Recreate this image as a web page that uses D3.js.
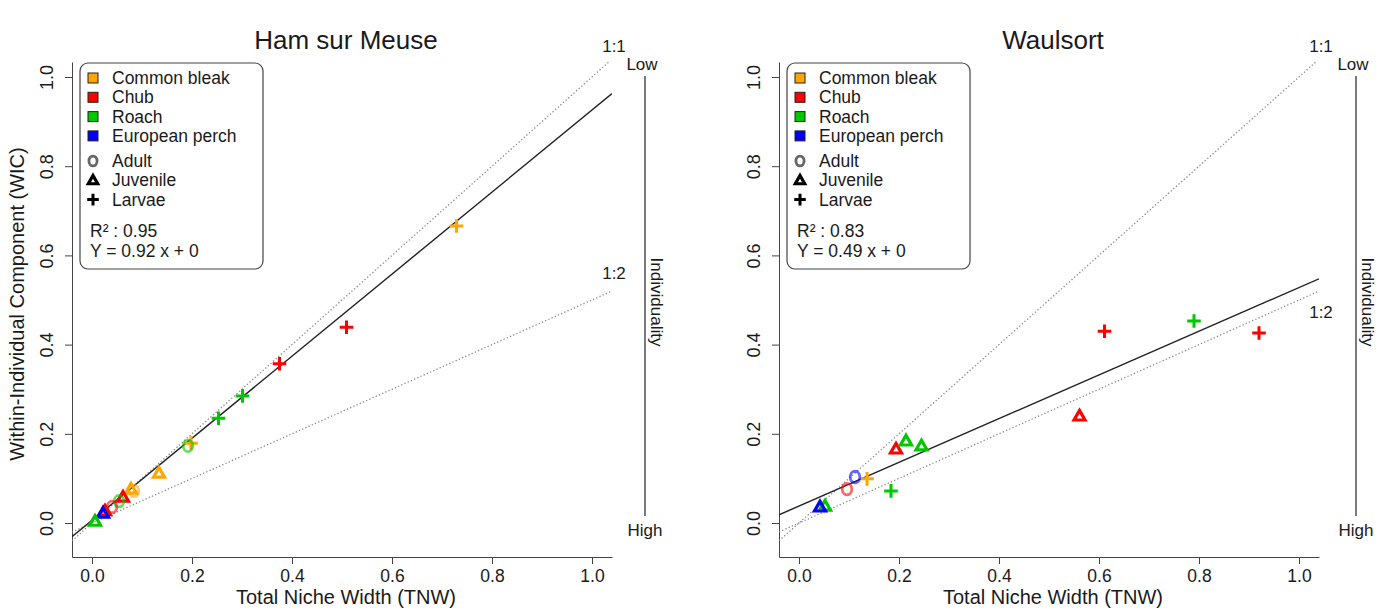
<!DOCTYPE html>
<html>
<head>
<meta charset="utf-8">
<script src="https://cdn.jsdelivr.net/npm/d3@7"></script>
<style>
  body { margin: 0; background: #fff; }
  text { font-family: "Liberation Sans", Arial, sans-serif; fill: #1a1a1a; }
</style>
</head>
<body>
<div id="chart"></div>
<script>
// species colours and legend entries
let species = ['Common bleak', 'Chub', 'Roach', 'European perch']
let speciesColors = ['#FFA500', '#FF0000', '#00C800', '#0000FF']
let stages = ['Adult', 'Juvenile', 'Larvae']
let ticks = [0, 0.2, 0.4, 0.6, 0.8, 1.0]

// Ham sur Meuse (species index, stage, TNW, WIC)
let hamSpecies = [0, 1, 1, 2, 2, 0, 2, 0, 0, 0, 1, 2, 1, 1, 3, 2]
let hamStage = ['Larvae', 'Larvae', 'Larvae', 'Larvae', 'Larvae', 'Larvae', 'Adult', 'Juvenile',
  'Adult', 'Juvenile', 'Juvenile', 'Adult', 'Adult', 'Juvenile', 'Juvenile', 'Juvenile']
let hamTNW = [0.729, 0.509, 0.375, 0.301, 0.253, 0.198, 0.192, 0.134, 0.084, 0.078, 0.062, 0.054, 0.040, 0.026, 0.022, 0.006]
let hamWIC = [0.666, 0.439, 0.357, 0.285, 0.235, 0.179, 0.173, 0.112, 0.072, 0.076, 0.058, 0.049, 0.036, 0.027, 0.022, 0.004]

// Waulsort
let wauSpecies = [1, 2, 1, 1, 1, 2, 2, 2, 0, 3, 1, 2, 3]
let wauStage = ['Larvae', 'Larvae', 'Larvae', 'Juvenile', 'Juvenile', 'Juvenile', 'Juvenile', 'Larvae',
  'Larvae', 'Adult', 'Adult', 'Juvenile', 'Juvenile']
let wauTNW = [0.611, 0.790, 0.920, 0.561, 0.194, 0.214, 0.245, 0.184, 0.136, 0.112, 0.096, 0.052, 0.042]
let wauWIC = [0.430, 0.453, 0.426, 0.240, 0.166, 0.184, 0.173, 0.072, 0.099, 0.103, 0.076, 0.038, 0.036]

let panels = [
  { title: 'Ham sur Meuse', left: 72, sp: hamSpecies, st: hamStage, x: hamTNW, y: hamWIC,
    r2: '0.95', eq: 'Y = 0.92 x + 0', slope: 0.92, icpt: 0.006, ylab: true, label12y: 0 },
  { title: 'Waulsort', left: 779, sp: wauSpecies, st: wauStage, x: wauTNW, y: wauWIC,
    r2: '0.83', eq: 'Y = 0.49 x + 0', slope: 0.49, icpt: 0.038, ylab: false, label12y: 1 }
]

let W = 1382, H = 612
let pw = 540, plotTop = 62, plotBottom = 557

let svg = d3.select('#chart').append('svg').attr('width', W).attr('height', H)

let defs = svg.append('defs')

panels.forEach((p, pi) => {
  let x = d3.scaleLinear().domain([-0.04, 1.04]).range([p.left, p.left + pw])
  let y = d3.scaleLinear().domain([-0.0762, 1.0336]).range([plotBottom, plotTop])
  let g = svg.append('g')

  defs.append('clipPath').attr('id', 'clip' + pi)
    .append('rect').attr('x', x.range()[0]).attr('y', plotTop)
    .attr('width', pw).attr('height', plotBottom - plotTop)

  // title
  g.append('text').attr('x', x(0.5) + 4).attr('y', 49).attr('text-anchor', 'middle')
    .attr('font-size', 26).text(p.title)

  // axes (L-shaped box)
  let xAxis = d3.axisBottom(x).tickValues(ticks).tickFormat(d3.format('.1f')).tickSize(7).tickSizeOuter(0)
  let gx = g.append('g').attr('transform', `translate(0,${plotBottom})`).call(xAxis)
  gx.select('.domain').attr('stroke', '#444')
  gx.selectAll('.tick line').attr('stroke', '#444')
  gx.selectAll('.tick text').attr('font-size', 17.5).attr('dy', 0).attr('y', 25).attr('fill', '#1a1a1a')
    .attr('font-family', '"Liberation Sans", Arial, sans-serif')

  let yAxis = d3.axisLeft(y).tickValues(ticks).tickFormat(d3.format('.1f')).tickSize(7).tickSizeOuter(0)
  let gy = g.append('g').attr('transform', `translate(${x.range()[0]},0)`).call(yAxis)
  gy.select('.domain').attr('stroke', '#444')
  gy.selectAll('.tick line').attr('stroke', '#444')
  gy.selectAll('.tick text').attr('font-size', 18).attr('x', 0).attr('dy', 0).attr('y', 0)
    .attr('text-anchor', 'middle').attr('fill', '#1a1a1a')
    .attr('font-family', '"Liberation Sans", Arial, sans-serif')
    .attr('transform', 'translate(-24,0) rotate(-90)')
    .attr('dominant-baseline', 'middle')

  g.append('text').attr('x', x(0.5) + 4).attr('y', 604).attr('text-anchor', 'middle')
    .attr('font-size', 20).text('Total Niche Width (TNW)')
  if (p.ylab) {
    g.append('text').attr('transform', `translate(24,${y(0.5) + 4}) rotate(-90)`)
      .attr('text-anchor', 'middle').attr('font-size', 20).text('Within-Individual Component (WIC)')
  }

  // reference lines and regression
  let lines = g.append('g').attr('clip-path', `url(#clip${pi})`)
  let line = d3.line().x(d => x(d[0])).y(d => y(d[1]))
  let xs = [-0.04, 1.04]
  lines.append('path').attr('d', line(xs.map(v => [v, v])))
    .attr('stroke', '#888').attr('stroke-width', 1.3).attr('stroke-dasharray', '1.3,2.2').attr('fill', 'none')
  lines.append('path').attr('d', line(xs.map(v => [v, v / 2])))
    .attr('stroke', '#888').attr('stroke-width', 1.3).attr('stroke-dasharray', '1.3,2.2').attr('fill', 'none')
  lines.append('path').attr('d', line(xs.map(v => [v, p.icpt + p.slope * v])))
    .attr('stroke', '#222').attr('stroke-width', 1.4).attr('fill', 'none')

  g.append('text').attr('x', x(1.04) + 2).attr('y', 52).attr('text-anchor', 'middle')
    .attr('font-size', 17).text('1:1')
  let l12y = p.label12y ? y(0.52) + 27 : y(0.52) - 12
  g.append('text').attr('x', x(1.04) + 2).attr('y', l12y).attr('text-anchor', 'middle')
    .attr('font-size', 17).text('1:2')

  // individuality scale
  let sx = x(1.04) + 33 + pi * 4
  g.append('line').attr('x1', sx).attr('x2', sx).attr('y1', 76).attr('y2', 516)
    .attr('stroke', '#333').attr('stroke-width', 1.3)
  g.append('text').attr('x', sx - 3).attr('y', 70).attr('text-anchor', 'middle').attr('font-size', 17).text('Low')
  g.append('text').attr('x', sx).attr('y', 536).attr('text-anchor', 'middle').attr('font-size', 17).text('High')
  g.append('text').attr('transform', `translate(${sx + 6},${302}) rotate(90)`)
    .attr('text-anchor', 'middle').attr('font-size', 17).text('Individuality')

  // points
  let data = p.x.map((v, i) => ({ x: v, y: p.y[i], c: speciesColors[p.sp[i]], s: p.st[i] }))
  let pts = g.append('g')
  data.forEach(d => drawMark(pts, d.s, x(d.x), y(d.y), d.c, false))

  // legend
  let lx = x.range()[0] + 8
  let lg = g.append('g')
  lg.append('rect').attr('x', lx).attr('y', 63).attr('width', 183).attr('height', 206)
    .attr('rx', 8).attr('fill', '#fff').attr('stroke', '#444').attr('stroke-width', 1.2)
  species.forEach((s, i) => {
    let cy = 78 + i * 19.3
    lg.append('rect').attr('x', lx + 8).attr('y', cy - 5).attr('width', 10).attr('height', 10)
      .attr('fill', speciesColors[i]).attr('stroke', '#222').attr('stroke-width', 1)
    lg.append('text').attr('x', lx + 32).attr('y', cy + 6).attr('font-size', 17.5).text(s)
  })
  stages.forEach((s, i) => {
    let cy = 161 + i * 19.3
    drawMark(lg, s, lx + 13, cy, s === 'Adult' ? '#666' : '#000', true)
    lg.append('text').attr('x', lx + 32).attr('y', cy + 6).attr('font-size', 17.5).text(s)
  })
  lg.append('text').attr('x', lx + 10).attr('y', 237).attr('font-size', 17.5).text('R² : ' + p.r2)
  lg.append('text').attr('x', lx + 10).attr('y', 257).attr('font-size', 17.5).text(p.eq)
})

function drawMark(g, stage, cx, cy, color, legend) {
  let k = legend ? 0.85 : 1
  if (stage === 'Adult') {
    g.append('ellipse').attr('cx', cx).attr('cy', cy).attr('rx', 4.8 * k).attr('ry', 5.8 * k)
      .attr('fill', 'none').attr('stroke', color).attr('stroke-width', 2.8)
      .attr('stroke-opacity', legend ? 1 : 0.6)
  } else if (stage === 'Juvenile') {
    let s = 5.6 * k
    let pts = [[cx, cy - s], [cx + s * 0.98, cy + s * 0.72], [cx - s * 0.98, cy + s * 0.72]]
    g.append('path').attr('d', d3.line()(pts) + 'Z')
      .attr('fill', 'none').attr('stroke', color).attr('stroke-width', 3.2).attr('stroke-linejoin', 'miter')
  } else {
    let a = 6.8 * k
    g.append('path').attr('d', `M${cx - a},${cy}H${cx + a}M${cx},${cy - a}V${cy + a}`)
      .attr('stroke', color).attr('stroke-width', 3).attr('fill', 'none')
  }
}
</script>
</body>
</html>
